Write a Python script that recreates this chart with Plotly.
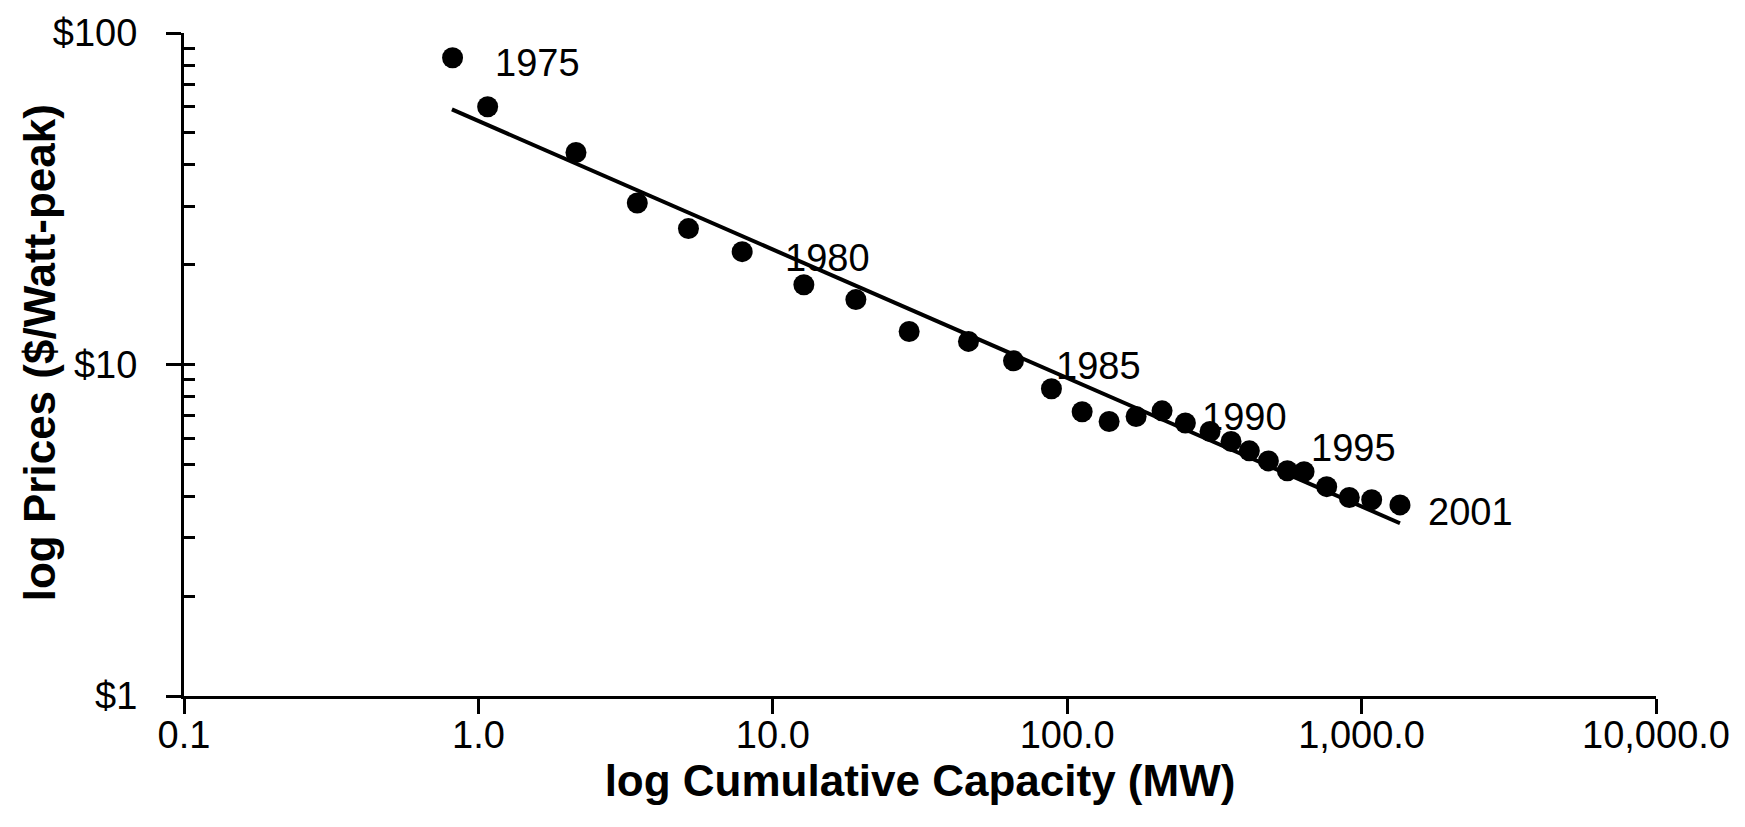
import math
import plotly.graph_objects as go

# ---- data ----
years = [1975, 1976, 1977, 1978, 1979, 1980, 1981, 1982, 1983, 1984, 1985, 1986, 1987,
         1988, 1989, 1990, 1991, 1992, 1993, 1994, 1995, 1996, 1997, 1998, 1999, 2000, 2001]
capacity_mw = [0.817, 1.075, 2.145, 3.465, 5.17, 7.87, 12.75, 19.15, 29.05, 46.2, 65.7, 88.4, 112.4,
               138.8, 171.4, 210.0, 252.0, 305.6, 360.2, 415.6, 482.3, 559.5, 637.5, 761.2, 908.2, 1082.0, 1350.0]
price_per_wp = [84.2, 59.9, 43.6, 30.7, 25.7, 21.9, 17.4, 15.7, 12.58, 11.74, 10.26, 8.45, 7.20,
                6.73, 6.97, 7.25, 6.66, 6.28, 5.86, 5.49, 5.12, 4.78, 4.75, 4.28, 3.97, 3.91, 3.77]
trend_x = [0.813, 1350.0]
trend_y = [58.8, 3.32]
labelled_years = [1975, 1980, 1985, 1990, 1995, 2001]
x_tickvals = [0.1, 1, 10, 100, 1000, 10000]
x_ticktext = ["0.1", "1.0", "10.0", "100.0", "1,000.0", "10,000.0"]
y_tickvals = [1, 10, 100]
y_ticktext = ["$1", "$10", "$100"]
y_minorvals = [1, 2, 3, 4, 5, 6, 7, 8, 9, 10, 20, 30, 40, 50, 60, 70, 80, 90, 100]
x_title = "log Cumulative Capacity (MW)"
y_title = "log Prices ($/Watt-peak)"

# ---- style ----
FONT = "Liberation Sans, Arial, Helvetica, sans-serif"
label_shift = {1975: (40, -5), 1980: (41, -6), 1985: (41, -5), 1990: (38, -6), 1995: (41, 13), 2001: (26, -7)}

fig = go.Figure()
fig.add_trace(go.Scatter(x=trend_x, y=trend_y, mode="lines",
                         line=dict(color="black", width=4), showlegend=False, hoverinfo="skip"))
fig.add_trace(go.Scatter(x=capacity_mw, y=price_per_wp, mode="markers",
                         marker=dict(color="black", size=21), showlegend=False,
                         text=[str(y) for y in years]))

for yr in labelled_years:
    i = years.index(yr)
    dx, dy = label_shift[yr]
    # annotations on log axes are positioned in log10 units
    fig.add_annotation(x=math.log10(capacity_mw[i]), y=math.log10(price_per_wp[i]),
                       xref="x", yref="y",
                       text=str(yr), showarrow=False, xanchor="left", yanchor="middle",
                       xshift=dx, yshift=dy,
                       font=dict(family=FONT, size=38, color="black"))

# y-axis title as a rotated annotation for precise placement
fig.add_annotation(x=-0.0985, y=0.517, xref="paper", yref="paper",
                   text="<b>" + y_title + "</b>", textangle=-90, showarrow=False,
                   xanchor="center", yanchor="middle",
                   font=dict(family=FONT, size=44, color="black"))

fig.update_layout(
    width=1745, height=827,
    margin=dict(l=184, r=89, t=33, b=131, pad=0),
    paper_bgcolor="white", plot_bgcolor="white",
    font=dict(family=FONT, color="black"),
    xaxis=dict(type="log", range=[-1, 4], showgrid=False, zeroline=False,
               showline=True, linecolor="black", linewidth=3,
               ticks="outside", ticklen=15, tickwidth=3, tickcolor="black",
               tickvals=x_tickvals, ticktext=x_ticktext,
               tickfont=dict(family=FONT, size=38), ticklabelstandoff=-12,
               title=dict(text="<b>" + x_title + "</b>",
                          font=dict(family=FONT, size=44), standoff=6),
               automargin=False),
    yaxis=dict(type="log", range=[0, 2], showgrid=False, zeroline=False,
               showline=True, linecolor="black", linewidth=3,
               ticks="outside", ticklen=15, tickwidth=3, tickcolor="black",
               tickvals=y_tickvals, ticktext=y_ticktext,
               tickfont=dict(family=FONT, size=38), ticklabelstandoff=21,
               automargin=False),
    yaxis2=dict(type="log", range=[0, 2], overlaying="y", side="left",
                showgrid=False, zeroline=False, showline=False,
                ticks="inside", ticklen=11, tickwidth=3, tickcolor="black",
                tickvals=y_minorvals, showticklabels=False),
)
# invisible trace to activate the inner tick axis
fig.add_trace(go.Scatter(x=[capacity_mw[0]], y=[price_per_wp[0]], yaxis="y2", mode="markers",
                         marker=dict(opacity=0), showlegend=False, hoverinfo="skip"))

fig.write_html("out.html")
